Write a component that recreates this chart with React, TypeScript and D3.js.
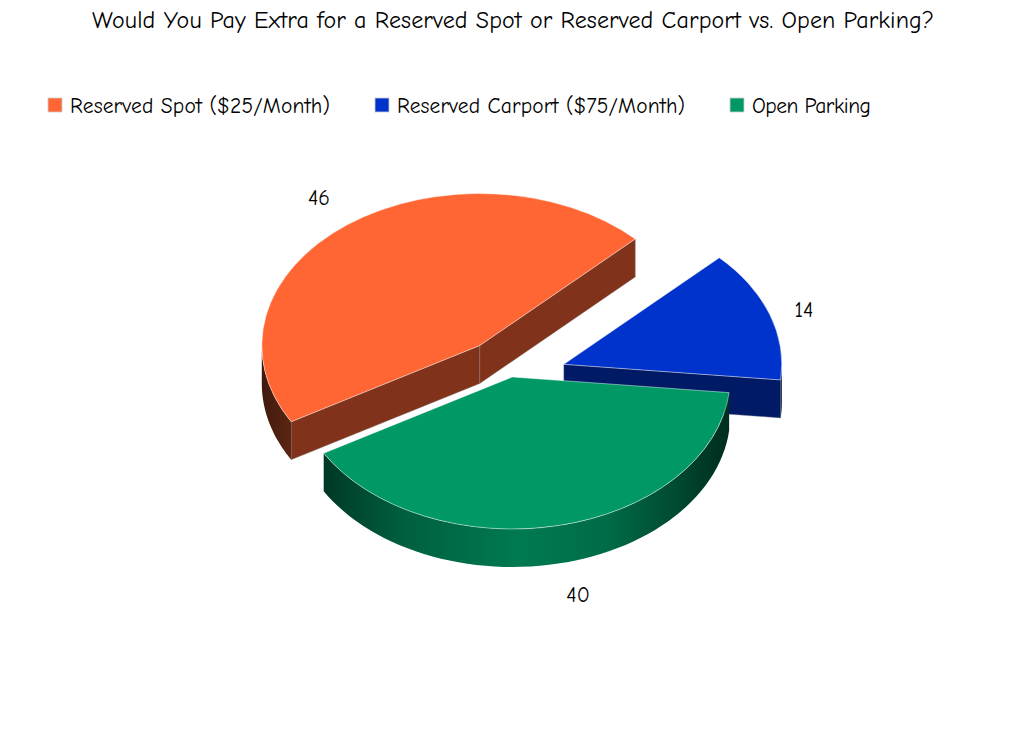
import React from "react";
import * as d3 from "d3";

const title = "Would You Pay Extra for a Reserved Spot or Reserved Carport vs. Open Parking?";
const categories = ["Reserved Spot ($25/Month)", "Reserved Carport ($75/Month)", "Open Parking"];
const values = [46, 14, 40];
const colors = ["#FF6633", "#0033CC", "#009966"];
const offsetX = [-32.5, 51.5, 0];
const offsetY = [-31.5, -12.7, 0];
const labelPos: [number, number][] = [[319, 205], [804, 317], [578, 602]];
const legendSwatchX = [48, 375, 730];
const legendWidths = [260, 288, 119];

const W = 1024, H = 752;
const CX = 512.3, CY = 377, RX = 218, RY = 152, DEPTH = 38;
const START = (239.9 * Math.PI) / 180;
const FONT = "'Comic Sans MS', 'Comic Neue', Lato, 'Open Sans', sans-serif";

const pie = d3.pie<number>().sort(null).startAngle(START).endAngle(START + 2 * Math.PI);
const slices = pie(values);
const arcGen = d3.arc<d3.PieArcDatum<number>>().innerRadius(0).outerRadius(RX);
const lineGen = d3.line();

const shade = (c: string, f: number) => {
  const r = d3.rgb(c);
  return d3.rgb(r.r * f, r.g * f, r.b * f).formatHex();
};

const gradStops = [
  [0, 0.25], [0.12, 0.45], [0.25, 0.62], [0.52, 0.8], [0.72, 0.7], [0.88, 0.48], [0.97, 0.33], [1, 0.3],
];

export default function App() {
  return (
    <svg width={W} height={H} viewBox={`0 0 ${W} ${H}`}
      style={{ position: "absolute", left: 0, top: 0, display: "block", background: "#fff" }}>
      <defs>
        {slices.map((s, i) => {
          const ox = CX + offsetX[i];
          return (
            <linearGradient key={i} id={`rim${i}`} gradientUnits="userSpaceOnUse"
              x1={ox - RX} x2={ox + RX} y1={0} y2={0}>
              {gradStops.map(([o, f]) => (
                <stop key={o} offset={o} stopColor={shade(colors[i], f)} />
              ))}
            </linearGradient>
          );
        })}
      </defs>

      <text x={513} y={28} textAnchor="middle" fontFamily={FONT} fontSize={24}
        textLength={842} lengthAdjust="spacing" fill="#000">{title}</text>

      {categories.map((c, i) => (
        <g key={c}>
          <rect x={legendSwatchX[i]} y={98} width={14} height={14} fill={colors[i]}
            stroke="#ccc" strokeWidth={0.8} />
          <text x={legendSwatchX[i] + 22} y={113} fontFamily={FONT} fontSize={21.5}
            textLength={legendWidths[i]} lengthAdjust="spacing" fill="#000">{c}</text>
        </g>
      ))}

      {slices.map((s, i) => {
        const ox = CX + offsetX[i];
        const oy = CY + offsetY[i];
        const pt = (a: number): [number, number] => [ox + RX * Math.sin(a), oy - RY * Math.cos(a)];
        const face = shade(colors[i], 0.5);
        const edgeFace = (a: number) => {
          const p = pt(a);
          return lineGen([[ox, oy], p, [p[0], p[1] + DEPTH], [ox, oy + DEPTH]])! + "Z";
        };
        const ranges: [number, number][] = [];
        for (let k = 0; k < 2; k++) {
          const lo = Math.max(s.startAngle, Math.PI / 2 + k * 2 * Math.PI);
          const hi = Math.min(s.endAngle, (3 * Math.PI) / 2 + k * 2 * Math.PI);
          if (hi > lo) ranges.push([lo, hi]);
        }
        return (
          <g key={i}>
            {Math.sin(s.startAngle) < 0 && (
              <path d={edgeFace(s.startAngle)} fill={face} stroke="#8a8a8a" strokeOpacity={0.55} strokeWidth={0.7} />
            )}
            {Math.sin(s.endAngle) > 0 && (
              <path d={edgeFace(s.endAngle)} fill={face} stroke="#8a8a8a" strokeOpacity={0.55} strokeWidth={0.7} />
            )}
            {ranges.map(([lo, hi], j) => {
              const top = d3.range(0, 61).map((t) => pt(lo + ((hi - lo) * t) / 60));
              const bottom = top.map(([x, y]) => [x, y + DEPTH] as [number, number]).reverse();
              return <path key={j} d={lineGen([...top, ...bottom])! + "Z"} fill={`url(#rim${i})`} />;
            })}
            <path
              d={arcGen(s)!}
              transform={`translate(${ox},${oy}) scale(1,${RY / RX})`}
              fill={colors[i]}
              stroke="#ffffff"
              strokeOpacity={0.45}
              strokeWidth={1}
              vectorEffect="non-scaling-stroke"
            />
          </g>
        );
      })}

      {values.map((v, i) => (
        <text key={i} x={labelPos[i][0]} y={labelPos[i][1]} textAnchor="middle"
          fontFamily={FONT} fontSize={21.5} fill="#000">{v}</text>
      ))}
    </svg>
  );
}
